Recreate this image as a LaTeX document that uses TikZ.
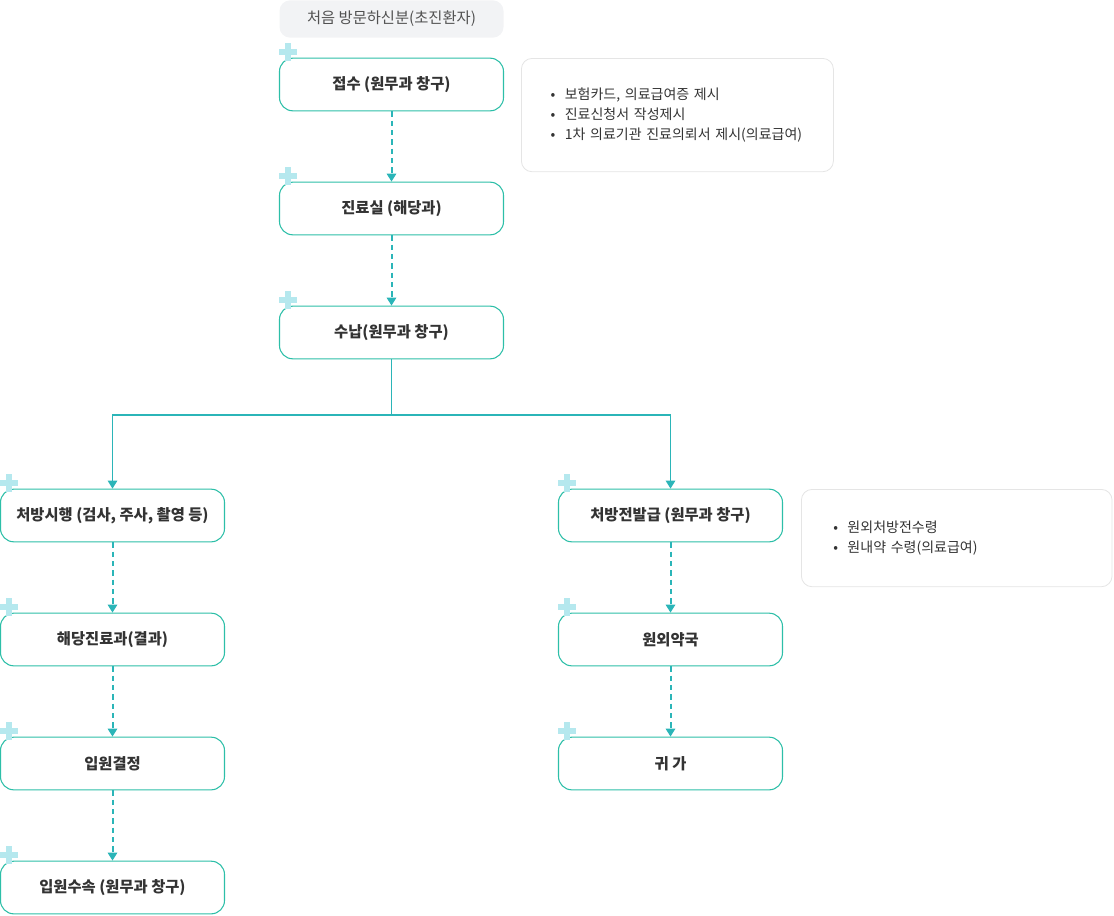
\documentclass[tikz,border=0pt]{standalone}
\usepackage{fontspec}
\setmainfont{Noto Sans CJK KR}
\usetikzlibrary{arrows.meta}
\definecolor{bord}{HTML}{2DBFA8}
\definecolor{arr}{HTML}{2BB5B8}
\definecolor{plus}{HTML}{B5E8EE}
\definecolor{gbg}{HTML}{F2F3F5}
\definecolor{txt}{HTML}{333333}
\begin{document}
\begin{tikzpicture}[x=0.75pt,y=-0.75pt,
  box/.style={draw=bord,line width=0.8pt,rounded corners=10pt,fill=white,minimum width=168pt,minimum height=39.5pt,font=\fontsize{11.5}{13}\selectfont\bfseries,text=txt},
  note/.style={draw=gray!20,line width=0.6pt,rounded corners=8pt,fill=white,anchor=north west,font=\fontsize{10.5}{17}\selectfont,text=txt,align=left,inner xsep=22pt},
  dashcon/.style={draw=arr,line width=1.5pt,dash pattern=on 4pt off 3pt,-{Triangle[length=6pt,width=7pt]}},
  solidcon/.style={draw=arr,line width=1.4pt,-{Triangle[length=6pt,width=7pt]}}]
\useasboundingbox (0,0) rectangle (1114,915);
\node[fill=gbg,rounded corners=8pt,minimum width=168pt,minimum height=28pt,font=\fontsize{11.5}{13}\selectfont,text=txt!85] (top) at (391.5,19) {처음 방문하신분(초진환자)};
\node[box] (a) at (391.5,84.5) {접수 (원무과 창구)};
\node[box] (b) at (391.5,208.5) {진료실 (해당과)};
\node[box] (c) at (391.5,332.5) {수납(원무과 창구)};
\node[box] (l1) at (112.5,515.5) {처방시행 (검사, 주사, 촬영 등)};
\node[box] (l2) at (112.5,639.5) {해당진료과(결과)};
\node[box] (l3) at (112.5,763.5) {입원결정};
\node[box] (l4) at (112.5,887.5) {입원수속 (원무과 창구)};
\node[box] (r1) at (670.5,515.5) {처방전발급 (원무과 창구)};
\node[box] (r2) at (670.5,639.5) {원외약국};
\node[box] (r3) at (670.5,763.5) {귀 가};
\foreach \n in {a,b,c,l1,l2,l3,l4,r1,r2,r3}{
  \fill[plus] ([shift={(6,3)}]\n.north west) rectangle ([shift={(12,-15)}]\n.north west);
  \fill[plus] ([shift={(0,-3)}]\n.north west) rectangle ([shift={(18,-9)}]\n.north west);
}
\node[note,text width=190pt,minimum height=85pt,inner ysep=10pt] (n1) at (521,58) {\textbullet\hspace{7pt}보험카드, 의료급여증 제시\\[-2pt]\textbullet\hspace{7pt}진료신청서 작성제시\\[-2pt]\textbullet\hspace{7pt}1차 의료기관 진료의뢰서 제시(의료급여)};
\node[note,inner xsep=24pt,text width=185pt,minimum height=73pt,inner ysep=14pt] (n2) at (801,489) {\textbullet\hspace{7pt}원외처방전수령\\[-2pt]\textbullet\hspace{7pt}원내약 수령(의료급여)};
\draw[dashcon] (a) -- (b);
\draw[dashcon] (b) -- (c);
\coordinate (s) at (391.5,415);
\draw[arr,line width=1.4pt] (c) -- (s);
\draw[solidcon] (s) -| (l1);
\draw[solidcon] (s) -| (r1);
\draw[dashcon] (l1) -- (l2);
\draw[dashcon] (l2) -- (l3);
\draw[dashcon] (l3) -- (l4);
\draw[dashcon] (r1) -- (r2);
\draw[dashcon] (r2) -- (r3);
\end{tikzpicture}
\end{document}
